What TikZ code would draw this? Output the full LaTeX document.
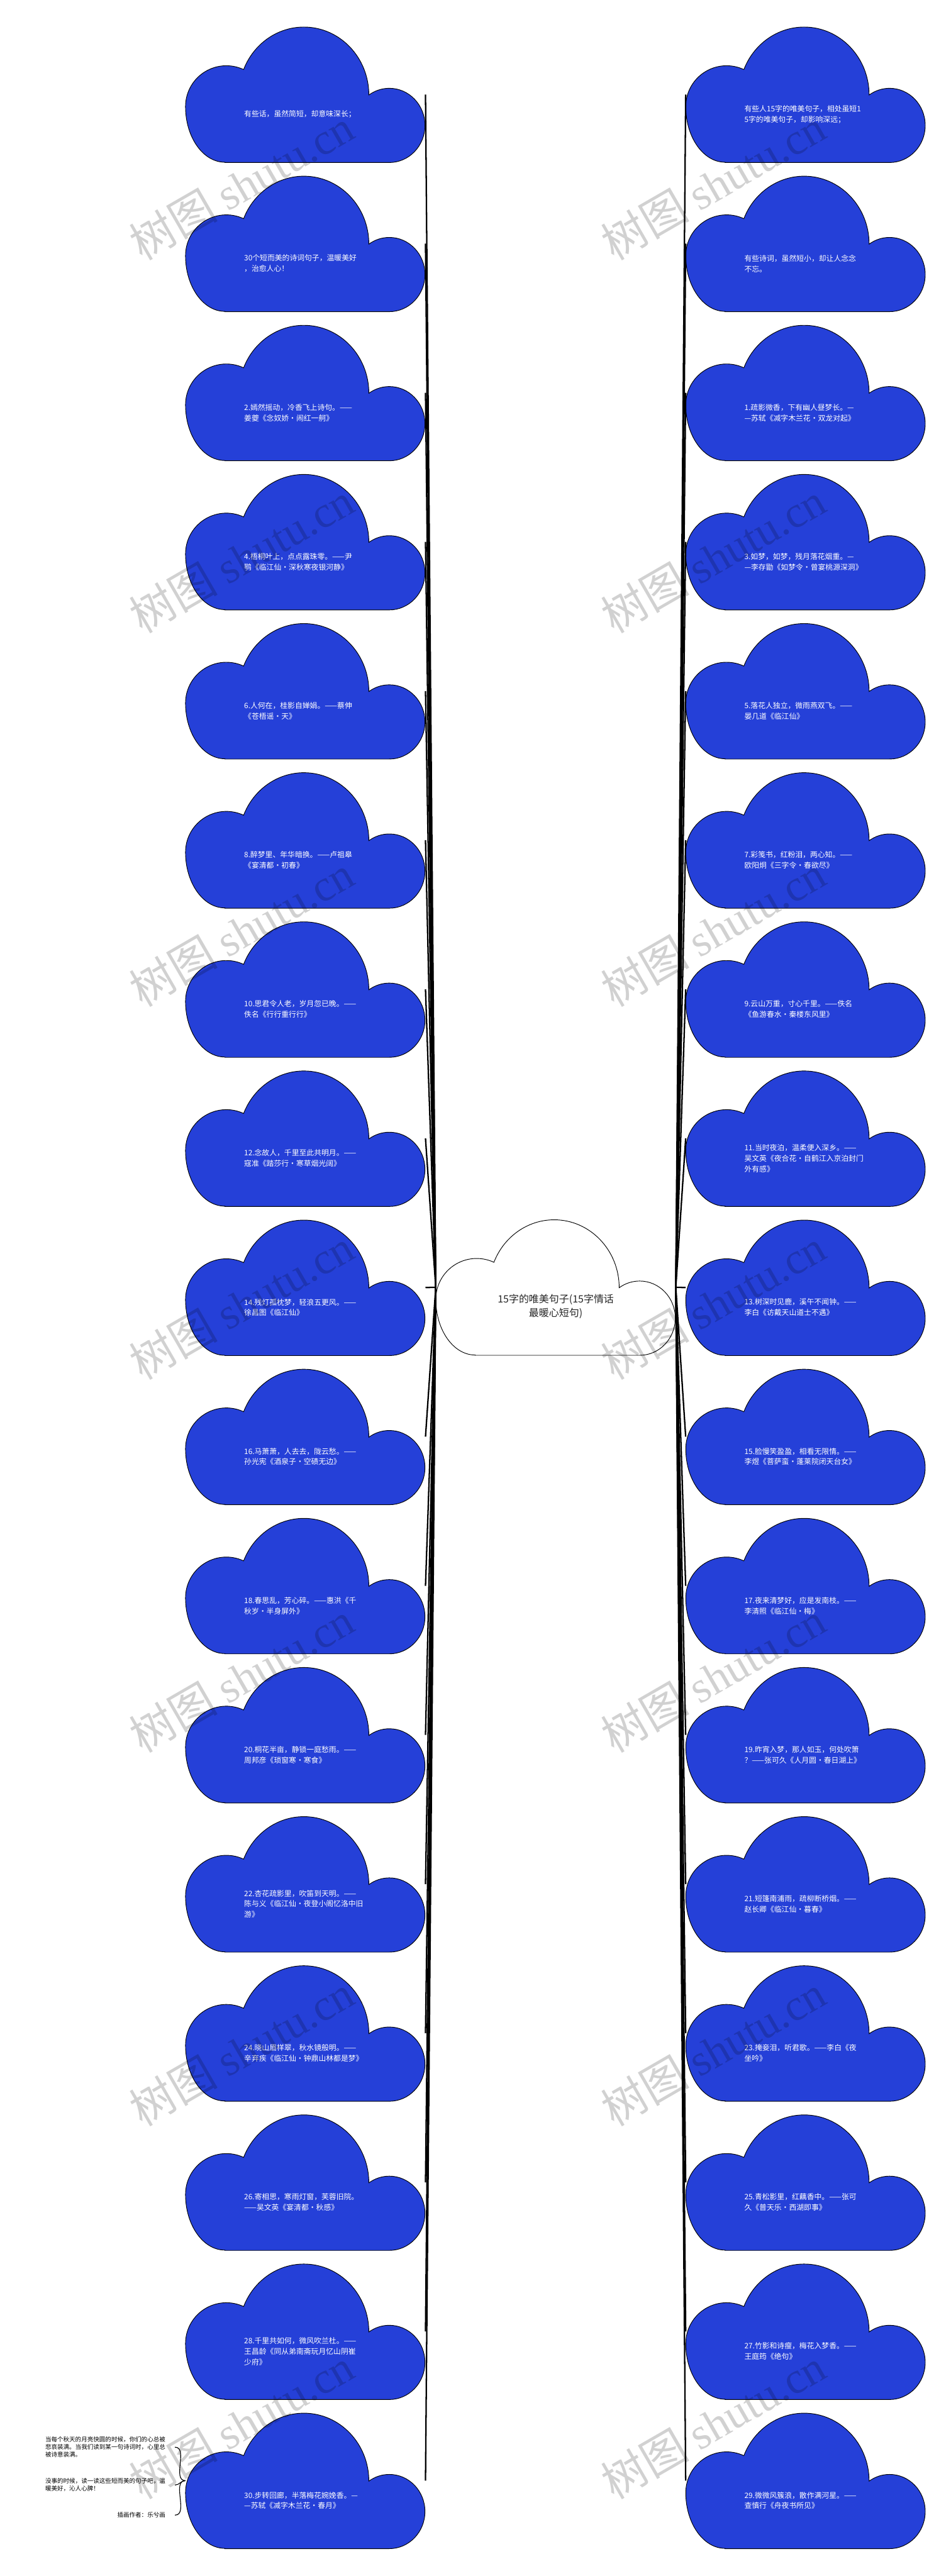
\documentclass[tikz,border=0pt]{standalone}
\usepackage{fontspec}
\setmainfont{Noto Sans CJK SC}
\newfontfamily\wmserif{Liberation Serif}
\usetikzlibrary{positioning}
\definecolor{cloudblue}{RGB}{37,64,216}

\newcommand\cloudat[2]{\filldraw[fill=#2,draw=black,line width=0.45pt,
    shift={(#1.south west)}]
  (1.06,0) -- (5.49,0)
  arc[start angle=-90,end angle=125,x radius=0.96cm,y radius=1cm]
  arc[start angle=0,end angle=158,x radius=1.75cm,y radius=1.83cm]
  arc[start angle=65,end angle=180,radius=1.1cm]
  arc[start angle=180,end angle=270,x radius=1.06cm,y radius=1.5cm] -- cycle;}

\begin{document}
\begin{tikzpicture}[
    leaf/.style = {minimum width=6.45cm, minimum height=3.65cm, inner sep=0pt},
    leaftext/.style = {text=white, text width=3.3cm, align=left, inner sep=0pt,
        font=\fontsize{5.7pt}{8.1pt}\selectfont},
    hubtext/.style = {text=black!85, align=center, inner sep=0pt,
        font=\fontsize{7.7pt}{10.5pt}\selectfont},
    notetext/.style = {align=left, anchor=east, inner xsep=0.25cm, inner ysep=0pt,
        font=\fontsize{4.6pt}{5.85pt}\selectfont},
    branch/.style = {line width=1.1pt},
    noteline/.style = {line width=0.55pt},
    watermark/.style = {rotate=30, text=black, text opacity=0.18,
        font=\fontsize{34pt}{34pt}\selectfont}]
\path[use as bounding box, fill=white] (0,0) rectangle (25.6,-69.37);

\node[leaf] (hub) at (14.965,-34.665) {};
\cloudat{hub}{white}
\node[hubtext] (hubt) at ([yshift=-0.515cm]hub.center) {15字的唯美句子(15字情话\\最暖心短句)};

\foreach \txt [count=\i] in {
    {有些话，虽然简短，却意味深长；},
    {30个短而美的诗词句子，温暖美好\\，治愈人心！},
    {2.嫣然摇动，冷香飞上诗句。——\\姜夔《念奴娇·闹红一舸》},
    {4.梧桐叶上，点点露珠零。——尹\\鹗《临江仙·深秋寒夜银河静》},
    {6.人何在，桂影自婵娟。——蔡伸\\《苍梧谣·天》},
    {8.醉梦里、年华暗换。——卢祖皋\\《宴清都·初春》},
    {10.思君令人老，岁月忽已晚。——\\佚名《行行重行行》},
    {12.念故人，千里至此共明月。——\\寇准《踏莎行·寒草烟光阔》},
    {14.残灯孤枕梦，轻浪五更风。——\\徐昌图《临江仙》},
    {16.马萧萧，人去去，陇云愁。——\\孙光宪《酒泉子·空碛无边》},
    {18.春思乱，芳心碎。——惠洪《千\\秋岁·半身屏外》},
    {20.桐花半亩，静锁一庭愁雨。——\\周邦彦《琐窗寒·寒食》},
    {22.杏花疏影里，吹笛到天明。——\\陈与义《临江仙·夜登小阁忆洛中旧\\游》},
    {24.晓山眉样翠，秋水镜般明。——\\辛弃疾《临江仙·钟鼎山林都是梦》},
    {26.寄相思，寒雨灯窗，芙蓉旧院。\\——吴文英《宴清都·秋感》},
    {28.千里共如何，微风吹兰杜。——\\王昌龄《同从弟南斋玩月忆山阴崔\\少府》},
    {30.步转回廊，半落梅花婉娩香。—\\—苏轼《减字木兰花·春月》}}
{
    \node[leaf] (L\i) at (8.225,{-2.545-4.016*(\i-1)}) {};
    \cloudat{L\i}{cloudblue}
    \node[leaftext] (Lt\i) at ([yshift=-0.535cm]L\i.center) {\txt};
    \draw[branch] (hub.west) -- (L\i.east);
}

\foreach \txt [count=\i] in {
    {有些人15字的唯美句子，相处虽短1\\5字的唯美句子，却影响深远；},
    {有些诗词，虽然短小，却让人念念\\不忘。},
    {1.疏影微香，下有幽人昼梦长。—\\—苏轼《减字木兰花·双龙对起》},
    {3.如梦，如梦，残月落花烟重。—\\—李存勖《如梦令·曾宴桃源深洞》},
    {5.落花人独立，微雨燕双飞。——\\晏几道《临江仙》},
    {7.彩笺书，红粉泪，两心知。——\\欧阳炯《三字令·春欲尽》},
    {9.云山万重，寸心千里。——佚名\\《鱼游春水·秦楼东风里》},
    {11.当时夜泊，温柔便入深乡。——\\吴文英《夜合花·自鹤江入京泊封门\\外有感》},
    {13.树深时见鹿，溪午不闻钟。——\\李白《访戴天山道士不遇》},
    {15.脸慢笑盈盈，相看无限情。——\\李煜《菩萨蛮·蓬莱院闭天台女》},
    {17.夜来清梦好，应是发南枝。——\\李清照《临江仙·梅》},
    {19.昨宵入梦，那人如玉，何处吹箫\\？——张可久《人月圆·春日湖上》},
    {21.短篷南浦雨，疏柳断桥烟。——\\赵长卿《临江仙·暮春》},
    {23.掩妾泪，听君歌。——李白《夜\\坐吟》},
    {25.青松影里，红藕香中。——张可\\久《普天乐·西湖即事》},
    {27.竹影和诗瘦，梅花入梦香。——\\王庭筠《绝句》},
    {29.微微风簇浪，散作满河星。——\\查慎行《舟夜书所见》}}
{
    \node[leaf] (R\i) at (21.695,{-2.545-4.016*(\i-1)}) {};
    \cloudat{R\i}{cloudblue}
    \node[leaftext] (Rt\i) at ([yshift=-0.535cm]R\i.center) {\txt};
    \draw[branch] (hub.east) -- (R\i.west);
}

\node[notetext] (note1) at (4.71,-65.90) {当每个秋天的月亮快圆的时候，你们的心总被\\悲哀装满。当我们读到某一句诗词时，心里总\\被诗意装满。};
\node[notetext] (note2) at (4.71,-66.92) {没事的时候，读一读这些短而美的句子吧，温\\暖美好，沁人心脾！};
\node[notetext] (note3) at (4.71,-67.73) {插画作者：乐兮画};
\draw[noteline] (L17.west) to[out=180,in=0] (note1.east);
\draw[noteline] (L17.west) to[out=180,in=0] (note2.east);
\draw[noteline] (L17.west) to[out=180,in=0] (note3.east);

\foreach \k in {0,...,6} {
    \node[watermark] (wl\k) at (6.5,{-4.97-10.05*\k}) {树图 {\wmserif shutu.cn}};
    \node[watermark] (wr\k) at (19.2,{-4.97-10.05*\k}) {树图 {\wmserif shutu.cn}};
}
\end{tikzpicture}
\end{document}
